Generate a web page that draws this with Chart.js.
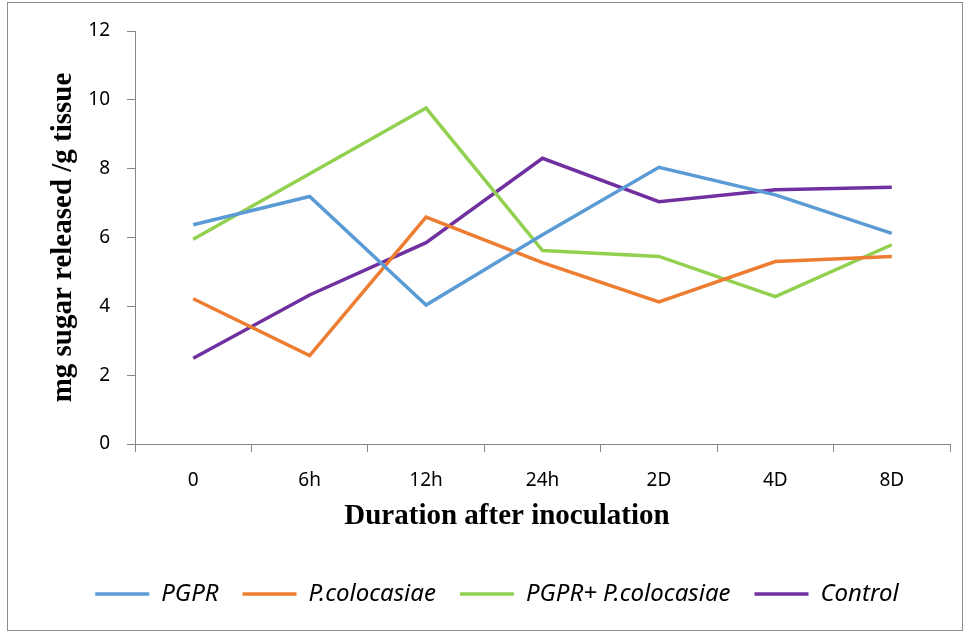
<!DOCTYPE html>
<html>
<head>
<meta charset="utf-8">
<title>Sugar released after inoculation</title>
<script src="https://cdn.jsdelivr.net/npm/chart.js@4.4.1/dist/chart.umd.min.js"></script>
<style>
  html, body { margin: 0; padding: 0; background: #fff; }
  canvas { display: block; }
</style>
</head>
<body>
<canvas id="sugarChart" width="969" height="633"></canvas>
<script>
// Sampling times
const durations = ["0", "6h", "12h", "24h", "2D", "4D", "8D"]

// mg sugar released per g tissue
const pgpr = [6.37, 7.19, 4.04, 6.08, 8.04, 7.24, 6.12]
const pColocasiae = [4.22, 2.57, 6.59, 5.27, 4.13, 5.30, 5.45]
const pgprPlusPc = [5.95, 7.85, 9.76, 5.62, 5.45, 4.28, 5.79]
const control = [2.49, 4.33, 5.85, 8.30, 7.04, 7.39, 7.46]

const yTicks = [0, 2, 4, 6, 8, 10, 12]

const axisGray = "#868686"
const labelFont = { family: "'Noto Sans', sans-serif", size: 19 }
const titleFont = { family: "'Liberation Serif', 'Times New Roman', serif", size: 29, weight: "bold" }

// Thin frame around the whole figure
const framePlugin = {
  id: "frame",
  beforeDraw(chart) {
    const ctx = chart.ctx
    ctx.save()
    ctx.fillStyle = "#fff"
    ctx.fillRect(0, 0, chart.width, chart.height)
    ctx.strokeStyle = "#8c8c8c"
    ctx.lineWidth = 1
    ctx.strokeRect(7.5, 2.5, 955, 628)
    ctx.restore()
  },
}

// X axis caption, sits a little left of the plot centre
const xCaptionPlugin = {
  id: "xCaption",
  afterDraw(chart) {
    const ctx = chart.ctx
    ctx.save()
    ctx.font = `${titleFont.weight} ${titleFont.size}px ${titleFont.family}`
    ctx.fillStyle = "#000"
    ctx.textAlign = "center"
    ctx.textBaseline = "middle"
    ctx.fillText("Duration after inoculation", 507, 517)
    ctx.restore()
  },
}

function series(label, data, color) {
  return {
    label: label,
    data: data,
    borderColor: color,
    backgroundColor: color,
    borderWidth: 3.5,
    pointRadius: 0,
    pointHoverRadius: 0,
    tension: 0,
    fill: false,
  }
}

new Chart(document.getElementById("sugarChart"), {
  type: "line",
  data: {
    labels: durations,
    datasets: [
      series("PGPR", pgpr, "#5B9BD5"),
      series("P.colocasiae", pColocasiae, "#ED7D31"),
      series("PGPR+ P.colocasiae", pgprPlusPc, "#92D050"),
      series("Control", control, "#7030A0"),
    ],
  },
  options: {
    responsive: false,
    animation: false,
    layout: {
      padding: { left: 44, right: 19, top: 31, bottom: 17 },
    },
    scales: {
      x: {
        offset: true,
        grid: {
          offset: true,
          drawOnChartArea: false,
          tickLength: 8,
          color: axisGray,
        },
        border: { color: axisGray, width: 1 },
        ticks: {
          color: "#000",
          font: labelFont,
          padding: 17,
          maxRotation: 0,
        },
        afterFit(scale) {
          scale.height = 114
        },
      },
      y: {
        min: 0,
        max: 12,
        afterBuildTicks(scale) {
          scale.ticks = yTicks.map((v) => ({ value: v }))
        },
        grid: {
          drawOnChartArea: false,
          tickLength: 8,
          color: axisGray,
        },
        border: { color: axisGray, width: 1 },
        ticks: {
          color: "#000",
          font: labelFont,
          padding: 17,
        },
        title: {
          display: true,
          text: "mg sugar released /g tissue",
          color: "#000",
          font: titleFont,
          padding: { top: 2, bottom: 0 },
        },
        afterFit(scale) {
          scale.width = 91
        },
      },
    },
    plugins: {
      legend: {
        position: "bottom",
        labels: {
          usePointStyle: true,
          pointStyle: "line",
          pointStyleWidth: 54,
          boxHeight: 24,
          padding: 24,
          color: "#000",
          font: { family: "'Noto Sans', sans-serif", size: 24, style: "italic" },
        },
      },
      tooltip: { enabled: false },
    },
  },
  plugins: [framePlugin, xCaptionPlugin],
})
</script>
</body>
</html>
